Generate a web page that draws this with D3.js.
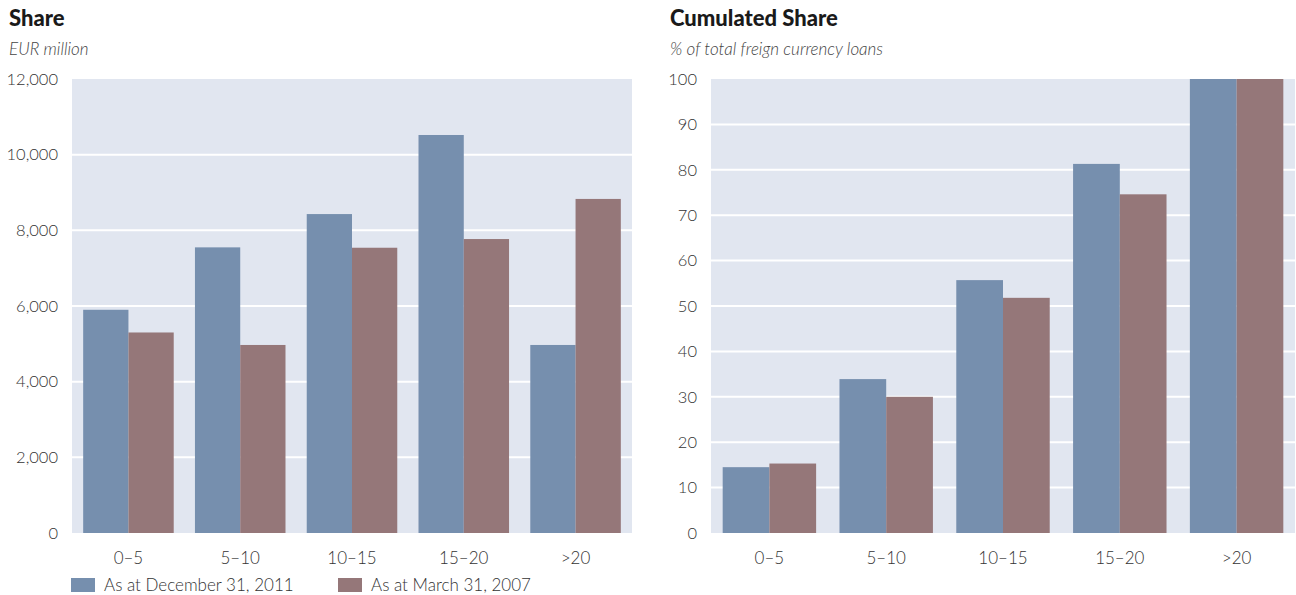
<!DOCTYPE html>
<html>
<head>
<meta charset="utf-8">
<script src="https://cdn.jsdelivr.net/npm/d3@7"></script>
<style>
  html, body { margin: 0; padding: 0; background: #fff; }
  svg { display: block; font-family: Lato, "Open Sans", sans-serif; }
</style>
</head>
<body>
<svg id="chart" width="1296" height="595"></svg>
<script>
// Maturity buckets (years)
const categories = ["0–5", "5–10", "10–15", "15–20", ">20"];
const seriesNames = ["As at December 31, 2011", "As at March 31, 2007"];

// Share, EUR million
const share2011 = [5900, 7550, 8430, 10520, 4970];
const share2007 = [5300, 4970, 7540, 7770, 8830];
const shareTicks = [0, 2000, 4000, 6000, 8000, 10000, 12000];

// Cumulated share, % of total foreign currency loans
const cum2011 = [14.5, 33.9, 55.7, 81.3, 100];
const cum2007 = [15.3, 30.0, 51.8, 74.6, 100];
const cumTicks = [0, 10, 20, 30, 40, 50, 60, 70, 80, 90, 100];

const colors = ["#768fae", "#957779"];
const svg = d3.select("#chart");

function panel(opts) {
  const g = svg.append("g");
  const x = d3.scaleBand().domain(categories).range([opts.x0, opts.x1])
    .paddingInner(opts.padIn).paddingOuter(opts.padOut);
  const xs = d3.scaleBand().domain([0, 1]).range([0, x.bandwidth()]);
  const y = d3.scaleLinear().domain([0, opts.max]).range([533, 79]);

  // titles
  g.append("text").attr("x", opts.tx).attr("y", 26)
    .attr("font-size", 22).attr("font-weight", 900).attr("fill", "#1a1a1a")
    .text(opts.title);
  g.append("text").attr("x", opts.tx).attr("y", 55)
    .attr("font-size", 17).attr("font-style", "italic").attr("font-weight", 300)
    .attr("fill", "#444")
    .text(opts.subtitle);

  // plot background
  g.append("rect").attr("x", opts.x0).attr("y", y(opts.max))
    .attr("width", opts.x1 - opts.x0).attr("height", y(0) - y(opts.max))
    .attr("fill", "#e1e6f0");

  // gridlines
  g.selectAll(".grid").data(opts.ticks.filter(t => t > 0 && t < opts.max))
    .join("line")
    .attr("x1", opts.x0).attr("x2", opts.x1)
    .attr("y1", d => y(d)).attr("y2", d => y(d))
    .attr("stroke", "#fff").attr("stroke-width", 2);

  // bars
  const groups = g.selectAll(".cat").data(categories).join("g")
    .attr("transform", d => `translate(${x(d)},0)`);
  groups.selectAll("rect").data((d, i) => opts.series.map((s, k) => ({ k, v: s[i] })))
    .join("rect")
    .attr("x", d => xs(d.k)).attr("width", xs.bandwidth())
    .attr("y", d => y(d.v)).attr("height", d => y(0) - y(d.v))
    .attr("fill", d => colors[d.k]);

  // y axis
  const ya = d3.axisLeft(y).tickValues(opts.ticks).tickSize(0).tickPadding(0)
    .tickFormat(opts.fmt);
  const yg = g.append("g").attr("transform", `translate(${opts.x0 - 14},0)`).call(ya);
  yg.select(".domain").remove();
  yg.selectAll("text").attr("font-size", 16.5).attr("fill", "#333").attr("font-weight", 300)
    .attr("font-family", "Lato, sans-serif").attr("dy", "0.32em");

  // x axis
  const xa = d3.axisBottom(x).tickSize(0).tickPadding(0);
  const xg = g.append("g").attr("transform", `translate(0,${y(0) + 19})`).call(xa);
  xg.select(".domain").remove();
  xg.selectAll("text").attr("font-size", 17).attr("fill", "#333").attr("font-weight", 300)
    .attr("font-family", "Lato, sans-serif").attr("dy", "0.71em");
}

panel({
  x0: 72, x1: 632, padIn: 0.19, padOut: 0.1, max: 12000,
  title: "Share", subtitle: "EUR million", tx: 9,
  ticks: shareTicks, fmt: d3.format(","), series: [share2011, share2007]
});

panel({
  x0: 711, x1: 1295, padIn: 0.2, padOut: 0.1, max: 100,
  title: "Cumulated Share", subtitle: "% of total freign currency loans", tx: 670,
  ticks: cumTicks, fmt: d3.format("d"), series: [cum2011, cum2007]
});

// legend
const legendX = [71, 338];
const lg = svg.append("g").selectAll("g").data(seriesNames).join("g")
  .attr("transform", (d, i) => `translate(${legendX[i]},578)`);
lg.append("rect").attr("width", 24).attr("height", 14).attr("fill", (d, i) => colors[i]);
lg.append("text").attr("x", 33).attr("y", 7).attr("dy", "0.35em")
  .attr("font-size", 17).attr("font-weight", 300).attr("fill", "#333").text(d => d);
</script>
</body>
</html>
